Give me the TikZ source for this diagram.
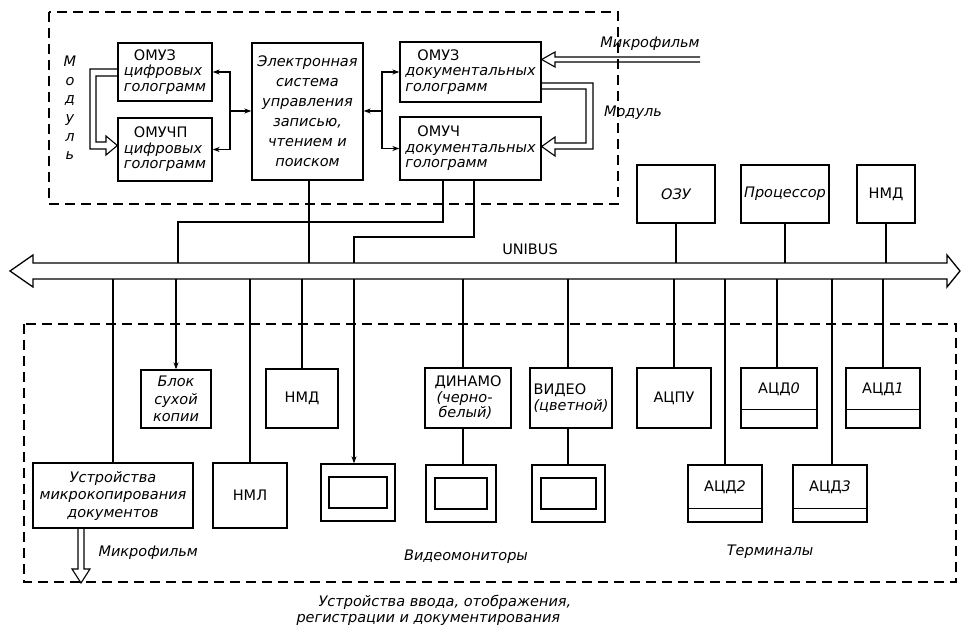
\documentclass[tikz,border=0pt]{standalone}
\usepackage{fontspec}
\setmainfont{DejaVu Sans}
\usetikzlibrary{arrows.meta,calc}
\begin{document}
\begin{tikzpicture}[x=1pt,y=-1pt,
  every node/.style={font=\fontsize{14.5}{15.5}\selectfont\itshape},
  box/.style={draw, line width=1.3pt, inner sep=1pt},
  ln/.style={line width=1.3pt},
  dsh/.style={line width=1.1pt, dash pattern=on 10pt off 6pt},
  arr/.style={ln, -{Stealth[length=7pt,width=5pt]}},
  up/.style={font=\fontsize{14.5}{15.5}\selectfont\upshape},
  big/.style={font=\fontsize{14.5}{20}\selectfont\itshape},
  mid/.style={font=\fontsize{14.5}{17.5}\selectfont\itshape}
]
\useasboundingbox (0,0) rectangle (962,631);

% dashed groups
\draw[dsh] (49,12) rectangle (618,204);
\draw[dsh] (24,324) rectangle (956,582);

% top group
\node[box, minimum width=94, minimum height=58, align=left] (omuz1) at (165,72)
  {\hspace*{10pt}{\upshape ОМУЗ}\\цифровых\\голограмм};
\node[box, minimum width=94, minimum height=63, align=left] (omuchp) at (165,149.5)
  {\hspace*{10pt}{\upshape ОМУЧП}\\цифровых\\голограмм};
\node[box, big, minimum width=111, minimum height=137, align=center] (elec) at (307.5,111.5)
  {Электронная\\система\\управления\\записью,\\чтением и\\поиском};
\node[box, minimum width=141, minimum height=60, align=left] (omuzd) at (470.5,72)
  {\hspace*{12pt}{\upshape ОМУЗ}\\документальных\\голограмм};
\node[box, minimum width=141, minimum height=63, align=left] (omuchd) at (470.5,148.5)
  {\hspace*{12pt}{\upshape ОМУЧ}\\документальных\\голограмм};

\node[font=\fontsize{14.5}{18.6}\selectfont\itshape, align=center] (modv) at (70,108)
  {М\\о\\д\\у\\л\\ь};
\node (modr) at (633,113) {Модуль};
\node (mfilm1) at (650,44) {Микрофильм};

\coordinate (jl) at (230,111);
\draw[arr] (jl) -- (elec.west |- jl);
\draw[arr] (jl) |- (omuz1.east);
\draw[arr] (jl) |- (omuchp.east);
\coordinate (jr) at (382,111);
\draw[arr] (jr) -- (elec.east |- jr);
\draw[arr] (jr) |- (omuzd.west);
\draw[arr] (jr) |- (omuchd.west);

% hollow double arrows
\draw[ln, line width=1.1pt, line join=miter] ($(omuz1.west)+(0,-3)$) -| (90,149) -- (106,149) -- (106,155)
  -- (omuchp.west |- 0,145.5) -- (106,136) -- (106,142) -| (96,76) -- ($(omuz1.west)+(0,4)$);
\draw[ln, line width=1.1pt, line join=miter] ($(omuzd.east)+(0,11)$) -| (593,149) -- (555,149) -- (555,156)
  -- (omuchd.east |- 0,146.5) -- (555,137) -- (555,143) -| (586,89) -- ($(omuzd.east)+(0,17)$);
\coordinate (mfin) at (700,59.5);
\draw[ln, line width=1.1pt, line join=miter] (mfin |- 0,57) -- (555,57) -- (555,52)
  -- (omuzd.east |- 0,59.5) -- (555,67) -- (555,62) -- (mfin |- 0,62);

% right computer boxes
\node[box, minimum width=78, minimum height=58] (ozu) at (676,194) {ОЗУ};
\node[box, minimum width=88, minimum height=58] (proc) at (785,194) {Процессор};
\node[box, up, minimum width=58, minimum height=58] (nmd1) at (886,194) {НМД};

% bus
\coordinate (bt) at (0,263);
\coordinate (bb) at (0,279);
\draw[ln, line join=miter] (33,263) -- (947,263) -- (947,255) -- (960,271) -- (947,287) -- (947,279)
  -- (33,279) -- (33,287) -- (10,271) -- (33,255) -- cycle;
\node[up] (unibus) at (530,249) {UNIBUS};

% stems to bus from above
\draw[ln] (elec.south -| 309,0) -- (309,0 |- bt);
\draw[ln] (omuchd.south -| 443,0) |- (178,222) -- (178,0 |- bt);
\draw[ln] (omuchd.south -| 474,0) |- (354,237) -- (354,0 |- bt);
\draw[ln] (ozu.south) -- (ozu.south |- bt);
\draw[ln] (proc.south) -- (proc.south |- bt);
\draw[ln] (nmd1.south) -- (nmd1.south |- bt);

% lower devices
\node[box, mid, minimum width=70, minimum height=58, align=center] (blok) at (176,399)
  {Блок\\сухой\\копии};
\node[box, up, minimum width=72, minimum height=59] (nmd2) at (302,398.5) {НМД};
\node[box, minimum width=86, minimum height=60, align=left] (dinamo) at (468,398)
  {{\upshape ДИНАМО}\\\hspace*{2pt}(черно-\\\hspace*{4pt}белый)};
\node[box, minimum width=82, minimum height=60, align=left] (video) at (571,398)
  {{\upshape ВИДЕО}\\(цветной)};
\node[box, up, minimum width=74, minimum height=60] (acpu) at (674,398) {АЦПУ};
\node[box, minimum width=76, minimum height=60] (acd0) at (779,398) {};
\node[box, minimum width=74, minimum height=60] (acd1) at (883,398) {};
\node[box, minimum width=74, minimum height=57] (acd2) at (725,493.5) {};
\node[box, minimum width=74, minimum height=57] (acd3) at (830,493.5) {};
\node[up] (acd0t) at (779,389) {АЦД\textit{0}};
\node[up] (acd1t) at (883,389) {АЦД\textit{1}};
\node[up] (acd2t) at (725,487) {АЦД\textit{2}};
\node[up] (acd3t) at (830,487) {АЦД\textit{3}};
\draw[ln] ($(acd0.south west)+(0,-19)$) -- ($(acd0.south east)+(0,-19)$);
\draw[ln] ($(acd1.south west)+(0,-19)$) -- ($(acd1.south east)+(0,-19)$);
\draw[ln] ($(acd2.south west)+(0,-14)$) -- ($(acd2.south east)+(0,-14)$);
\draw[ln] ($(acd3.south west)+(0,-14)$) -- ($(acd3.south east)+(0,-14)$);

\node[box, mid, minimum width=160, minimum height=65, align=center] (micro) at (113,495.5)
  {Устройства\\микрокопирования\\документов};
\node[box, up, minimum width=74, minimum height=65] (nml) at (250,495.5) {НМЛ};

\node[box, minimum width=74, minimum height=57] (mon1) at (358,492.5) {};
\node[box, minimum width=70, minimum height=57] (mon2) at (461,493.5) {};
\node[box, minimum width=73, minimum height=57] (mon3) at (568.5,493.5) {};
\node[box, minimum width=58, minimum height=31] (mon1i) at (mon1) {};
\node[box, minimum width=52, minimum height=31] (mon2i) at (mon2) {};
\node[box, minimum width=55, minimum height=31] (mon3i) at (mon3) {};

% stems below bus
\draw[ln] (micro.north |- bb) -- (micro.north);
\draw[arr] (blok.north |- bb) -- (blok.north);
\draw[ln] (nml.north |- bb) -- (nml.north);
\draw[ln] (nmd2.north |- bb) -- (nmd2.north);
\draw[arr] (354,279) -- (mon1.north -| 354,0);
\draw[ln] (463,279) -- (dinamo.north -| 463,0);
\draw[ln] (dinamo.south -| 463,0) -- (mon2.north -| 463,0);
\draw[ln] (568,279) -- (video.north -| 568,0);
\draw[ln] (video.south -| 568,0) -- (mon3.north -| 568,0);
\draw[ln] (acpu.north |- bb) -- (acpu.north);
\draw[ln] (acd2.north |- bb) -- (acd2.north);
\draw[ln] (777,279) -- (acd0.north -| 777,0);
\draw[ln] (832,279) -- (acd3.north -| 832,0);
\draw[ln] (acd1.north |- bb) -- (acd1.north);

% bottom microfilm output
\draw[ln, line width=1.1pt, line join=miter] (micro.south -| 78,0) -- (78,569) -- (72,569) -- (81,583)
  -- (90,569) -- (84,569) -- (micro.south -| 84,0);
\node[anchor=west] (mfilm2) at (95,553) {Микрофильм};
\node (vmon) at (466,557) {Видеомониторы};
\node (term) at (770,552) {Терминалы};
\node[align=left, anchor=north west] (caption) at (293,592)
  {\hspace*{22pt}Устройства ввода, отображения,\\регистрации и документирования};
\end{tikzpicture}
\end{document}
